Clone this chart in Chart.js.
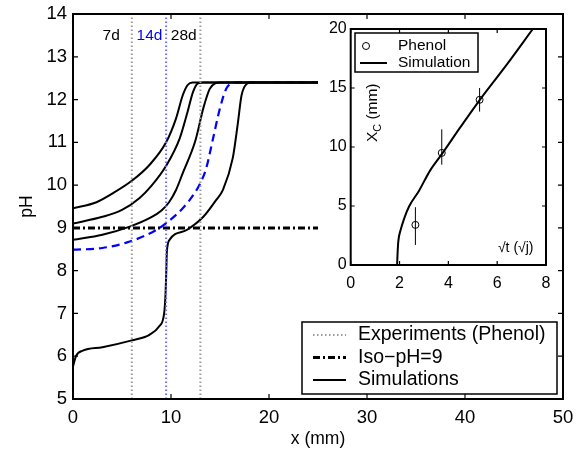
<!DOCTYPE html>
<html>
<head>
<meta charset="utf-8">
<script src="https://cdn.jsdelivr.net/npm/chart.js@4.4.0/dist/chart.umd.min.js"></script>
<style>
  html, body { margin: 0; padding: 0; background: #fff; }
  #wrap { position: relative; width: 581px; height: 454px; }
  #main { position: absolute; left: 0; top: 0; }
  #inset { position: absolute; left: 290px; top: 0; }
</style>
</head>
<body>
<div id="wrap">
  <canvas id="main" width="581" height="454"></canvas>
  <canvas id="inset" width="270" height="300"></canvas>
</div>
<script>
// main plot: pH profiles vs depth x (mm)
const simA_x = [0, 2.4, 4, 6, 7.8, 9.5, 10.5, 11.2, 11.7, 12.2, 25];
const simA_y = [9.46, 9.6, 9.8, 10.1, 10.47, 11.0, 11.55, 12.1, 12.34, 12.4, 12.4];
const simB_x = [0, 3, 5, 6.8, 8, 9.5, 10.9, 11.7, 12.25, 12.75, 13.3, 25];
const simB_y = [9.1, 9.26, 9.42, 9.7, 9.98, 10.45, 11.1, 11.72, 12.18, 12.38, 12.4, 12.4];
const simC_x = [0, 3, 5.8, 8, 9, 9.8, 10.5, 11.2, 12.5, 13.3, 13.95, 14.5, 15, 25];
const simC_y = [8.72, 8.84, 9.03, 9.25, 9.4, 9.6, 9.88, 10.28, 11.05, 11.8, 12.25, 12.38, 12.4, 12.4];
const simBlue_x = [0, 3, 5.8, 8.5, 9.5, 11.2, 12.4, 13.0, 13.6, 14.3, 15.0, 15.65, 16.2, 16.8, 25];
const simBlue_y = [8.49, 8.53, 8.68, 8.95, 9.11, 9.46, 9.81, 10.05, 10.4, 11.1, 11.8, 12.26, 12.38, 12.4, 12.4];
const simD_x = [0, 0.3, 1, 3, 6, 7.8, 8.8, 9.3, 9.45, 9.52, 9.58, 9.85, 11.6, 13.3, 14.6, 15.3, 16.3, 16.8, 17.2, 17.7, 18.2, 25];
const simD_y = [5.76, 6.0, 6.13, 6.21, 6.37, 6.5, 6.7, 7.0, 7.5, 8.0, 8.45, 8.72, 8.95, 9.26, 9.65, 9.89, 10.63, 11.41, 12.1, 12.36, 12.4, 12.4];

const isoX = [0, 25];
const isoY = [9, 9];

const expDepth = [6, 9.5, 13];          // 7d, 14d, 28d phenol fronts
const dayLabels = ['7d', '14d', '28d'];
const dayLabelX = [3.9, 7.8, 11.3];
const dayLabelY = 13.5;

// inset: carbonation depth vs sqrt(t)
const insetSimT = [1.9, 1.92, 1.95, 2.05, 2.2, 2.4, 2.8, 3.25, 3.77, 4.5, 5.29, 6.4, 7.46];
const insetSimX = [0, 1, 2, 3, 4, 5, 6.3, 8, 9.5, 11.7, 14, 17, 20];
const phenolT = [2.65, 3.73, 5.28];
const phenolX = [3.4, 9.5, 14.0];
const phenolLow = [1.7, 8.5, 13.0];
const phenolHigh = [4.9, 11.5, 15.0];

const FONT = 'Liberation Sans, Arial, Helvetica, sans-serif';
Chart.defaults.font.family = FONT;
Chart.defaults.color = '#000';

const pts = (xs, ys) => xs.map((x, i) => ({ x: x, y: ys[i] }));

// box + inward ticks on all four sides
const frameTicks = {
  id: 'frameTicks',
  afterDatasetsDraw(chart, args, o) {
    const { ctx, chartArea: a, scales } = chart;
    ctx.save();
    ctx.strokeStyle = '#000';
    ctx.lineWidth = 1.2;
    ctx.beginPath();
    scales.x.ticks.forEach(t => {
      const p = scales.x.getPixelForValue(t.value);
      ctx.moveTo(p, a.bottom); ctx.lineTo(p, a.bottom - o.len);
      ctx.moveTo(p, a.top); ctx.lineTo(p, a.top + o.len);
    });
    scales.y.ticks.forEach(t => {
      const p = scales.y.getPixelForValue(t.value);
      ctx.moveTo(a.left, p); ctx.lineTo(a.left + o.len, p);
      ctx.moveTo(a.right, p); ctx.lineTo(a.right - o.len, p);
    });
    ctx.stroke();
    ctx.lineWidth = o.border;
    ctx.strokeRect(a.left, a.top, a.right - a.left, a.bottom - a.top);
    ctx.restore();
  }
};

// vertical error bars through the markers
const errorBars = {
  id: 'errorBars',
  afterDatasetsDraw(chart) {
    const { ctx, scales } = chart;
    ctx.save();
    ctx.strokeStyle = '#000';
    ctx.lineWidth = 1;
    chart.data.datasets.forEach(d => {
      if (!d.errLow) return;
      d.data.forEach((p, i) => {
        const px = scales.x.getPixelForValue(p.x);
        ctx.beginPath();
        ctx.moveTo(px, scales.y.getPixelForValue(d.errLow[i]));
        ctx.lineTo(px, scales.y.getPixelForValue(d.errHigh[i]));
        ctx.stroke();
      });
    });
    ctx.restore();
  }
};

// free text placed in data coordinates
const dataText = {
  id: 'dataText',
  afterDatasetsDraw(chart, args, o) {
    const { ctx, scales } = chart;
    ctx.save();
    (o.items || []).forEach(it => {
      const px = scales.x.getPixelForValue(it.x);
      const py = scales.y.getPixelForValue(it.y);
      ctx.translate(px, py);
      if (it.rotate) ctx.rotate(it.rotate);
      ctx.fillStyle = it.color || '#000';
      ctx.textBaseline = 'middle';
      const parts = it.parts || [{ t: it.text }];
      let total = 0;
      parts.forEach(pp => {
        ctx.font = (pp.sub ? it.size * 0.7 : it.size) + 'px ' + FONT;
        total += ctx.measureText(pp.t).width;
      });
      let cx = -total / 2;
      ctx.textAlign = 'left';
      parts.forEach(pp => {
        ctx.font = (pp.sub ? it.size * 0.7 : it.size) + 'px ' + FONT;
        ctx.fillText(pp.t, cx, pp.sub ? it.size * 0.3 : 0);
        cx += ctx.measureText(pp.t).width;
      });
      ctx.setTransform(1, 0, 0, 1, 0, 0);
    });
    ctx.restore();
  }
};

// MATLAB style legend box
const boxLegend = {
  id: 'boxLegend',
  afterDraw(chart, args, o) {
    const ctx = chart.ctx;
    const items = chart.data.datasets.filter(d => d.inLegend);
    ctx.save();
    ctx.fillStyle = '#fff';
    ctx.fillRect(o.x, o.y, o.w, o.h);
    ctx.strokeStyle = '#000';
    ctx.lineWidth = 1.5;
    ctx.strokeRect(o.x, o.y, o.w, o.h);
    items.forEach((d, i) => {
      const cy = o.y + o.first + i * o.row;
      if (d.showLine) {
        ctx.strokeStyle = d.borderColor;
        ctx.lineWidth = d.borderWidth;
        ctx.setLineDash(d.borderDash || []);
        ctx.beginPath();
        ctx.moveTo(o.x + o.sampleX, cy);
        ctx.lineTo(o.x + o.sampleX + o.sampleW, cy);
        ctx.stroke();
        ctx.setLineDash([]);
      } else {
        ctx.strokeStyle = '#000';
        ctx.lineWidth = 1;
        ctx.beginPath();
        ctx.arc(o.x + o.markX, cy, d.pointRadius, 0, Math.PI * 2);
        ctx.stroke();
      }
      ctx.fillStyle = '#000';
      ctx.font = o.size + 'px ' + FONT;
      ctx.textBaseline = 'middle';
      ctx.textAlign = 'left';
      ctx.fillText(d.label, o.x + o.textX, cy);
    });
    ctx.restore();
  }
};

function fixAxis(size, horizontal) {
  return function (axis) {
    if (horizontal) axis.height = size; else axis.width = size;
    axis.paddingTop = 0; axis.paddingBottom = 0;
    axis.paddingLeft = 0; axis.paddingRight = 0;
  };
}

const simStyle = { showLine: true, pointRadius: 0, borderColor: '#000', borderWidth: 2, cubicInterpolationMode: 'monotone' };
const expColors = ['#9a9a9a', '#6a6aff', '#9a9a9a'];

const mainSets = [];
expDepth.forEach((x, i) => {
  mainSets.push({
    label: 'Experiments (Phenol)', inLegend: i === 0,
    data: pts([x, x], [5, 14]),
    showLine: true, pointRadius: 0, borderColor: expColors[i], borderWidth: 2, borderDash: [1.5, 2.5]
  });
});
mainSets.push({
  label: 'Iso\u2212pH=9', inLegend: true, data: pts(isoX, isoY),
  showLine: true, pointRadius: 0, borderColor: '#000', borderWidth: 3, borderDash: [7, 3, 2, 3]
});
mainSets.push(Object.assign({ label: 'Simulations', inLegend: true, data: pts(simA_x, simA_y) }, simStyle));
mainSets.push(Object.assign({ label: 'Simulations', data: pts(simB_x, simB_y) }, simStyle));
mainSets.push(Object.assign({ label: 'Simulations', data: pts(simC_x, simC_y) }, simStyle));
mainSets.push(Object.assign({ label: 'Simulations', data: pts(simBlue_x, simBlue_y) }, simStyle,
  { borderColor: '#0000ff', borderWidth: 2.2, borderDash: [8, 5] }));
mainSets.push(Object.assign({ label: 'Simulations', data: pts(simD_x, simD_y) }, simStyle));

new Chart(document.getElementById('main'), {
  type: 'scatter',
  data: { datasets: mainSets },
  options: {
    responsive: false,
    animation: false,
    layout: { autoPadding: false, padding: { left: 0, top: 14, right: 18, bottom: 0 } },
    scales: {
      x: {
        type: 'linear', min: 0, max: 50,
        afterFit: fixAxis(55, true),
        grid: { display: false, drawTicks: false }, border: { display: false },
        ticks: { stepSize: 10, padding: 8, font: { size: 18.5 } },
        title: { display: true, text: 'x (mm)', font: { size: 17.5 }, padding: { top: 0, bottom: 4 } }
      },
      y: {
        min: 5, max: 14,
        afterFit: fixAxis(73, false),
        grid: { display: false, drawTicks: false }, border: { display: false },
        ticks: { stepSize: 1, padding: 6, font: { size: 18.5 } },
        title: { display: true, text: 'pH', font: { size: 17.5 }, padding: { top: 17, bottom: 0 } }
      }
    },
    plugins: {
      legend: { display: false },
      tooltip: { enabled: false },
      frameTicks: { len: 5, border: 2 },
      dataText: {
        items: dayLabels.map((t, i) => ({ text: t, x: dayLabelX[i], y: dayLabelY, size: 15.5, color: i === 1 ? '#0000ff' : '#000' }))
      },
      boxLegend: { x: 302, y: 322, w: 255, h: 72, first: 13, row: 22.5, sampleX: 11, sampleW: 33, textX: 56, size: 19.5 }
    }
  },
  plugins: [frameTicks, dataText, boxLegend]
});

new Chart(document.getElementById('inset'), {
  type: 'scatter',
  data: {
    datasets: [
      {
        label: 'Phenol', inLegend: true, data: pts(phenolT, phenolX), errLow: phenolLow, errHigh: phenolHigh,
        showLine: false, pointRadius: 3.5, pointBorderColor: '#000', pointBackgroundColor: 'rgba(0,0,0,0)', pointBorderWidth: 1
      },
      Object.assign({ label: 'Simulation', inLegend: true, data: pts(insetSimT, insetSimX) }, simStyle)
    ]
  },
  options: {
    responsive: false,
    animation: false,
    layout: { autoPadding: false, padding: { left: 0, top: 29, right: 14, bottom: 0 } },
    scales: {
      x: {
        type: 'linear', min: 0, max: 8,
        afterFit: fixAxis(35, true),
        grid: { display: false, drawTicks: false }, border: { display: false },
        ticks: { stepSize: 2, padding: 9, font: { size: 16 } }
      },
      y: {
        min: 0, max: 20,
        afterFit: fixAxis(60.7, false),
        grid: { display: false, drawTicks: false }, border: { display: false },
        ticks: { stepSize: 5, padding: 4, font: { size: 16 } }
      }
    },
    plugins: {
      legend: { display: false },
      tooltip: { enabled: false },
      frameTicks: { len: 4, border: 2 },
      dataText: {
        items: [
          { parts: [{ t: 'X' }, { t: 'C', sub: true }, { t: ' (mm)' }], x: 0.91, y: 12.9, size: 15.5, rotate: -Math.PI / 2 },
          { text: '\u221at (\u221aj)', x: 6.76, y: 1.44, size: 14 }
        ]
      },
      boxLegend: { x: 65, y: 33, w: 123, h: 39, first: 13, row: 17, sampleX: 5, sampleW: 27, markX: 11, textX: 43, size: 15.5 }
    }
  },
  plugins: [errorBars, frameTicks, dataText, boxLegend]
});
</script>
</body>
</html>
